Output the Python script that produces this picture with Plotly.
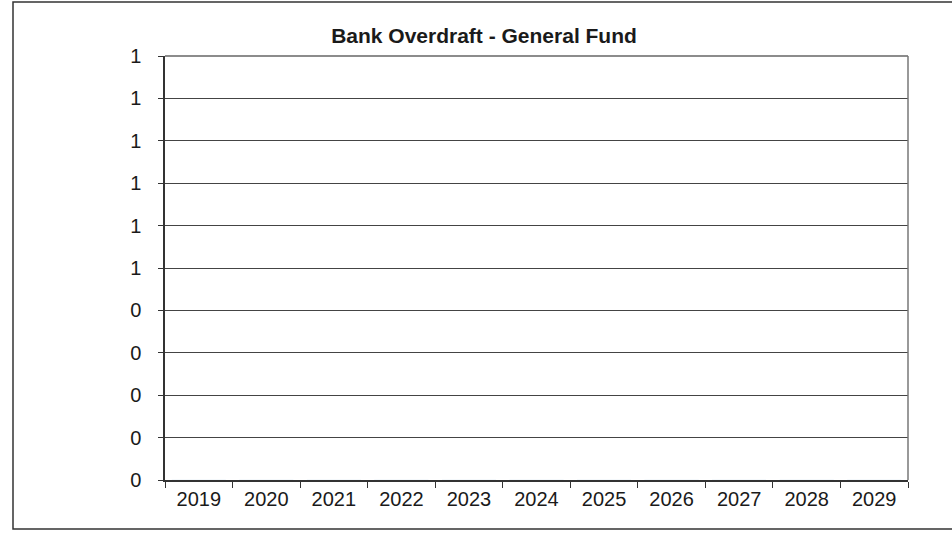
import plotly.graph_objects as go

# Fiscal years and overdraft balances (none drawn in any year)
years = ["2019", "2020", "2021", "2022", "2023", "2024", "2025", "2026", "2027", "2028", "2029"]
overdraft = [0, 0, 0, 0, 0, 0, 0, 0, 0, 0, 0]

# Value axis steps, labelled with whole numbers only
y_ticks = [0.0, 0.1, 0.2, 0.3, 0.4, 0.5, 0.6, 0.7, 0.8, 0.9, 1.0]
y_labels = ["0", "0", "0", "0", "0", "1", "1", "1", "1", "1", "1"]

W, H = 952, 533
L, R, T, B = 165, 44, 56, 53
pw, ph = W - L - R, H - T - B

fig = go.Figure()
fig.add_trace(go.Bar(x=years, y=overdraft, marker_color="#333333", showlegend=False))

font = dict(family="Liberation Sans, Arial, sans-serif", color="#1a1a1a")

fig.update_layout(
    width=W, height=H,
    margin=dict(l=L, r=R, t=T, b=B),
    paper_bgcolor="white", plot_bgcolor="white",
    font=dict(**font, size=20),
    title=dict(text="<b>Bank Overdraft - General Fund</b>", x=484 / W, xanchor="center",
               y=1 - 36 / H, yanchor="middle", font=dict(**font, size=21)),
    xaxis=dict(
        type="category", tickson="boundaries", ticks="outside", ticklen=6,
        tickcolor="#333333", showline=True, linecolor="#333333", linewidth=1.5,
        showgrid=False, tickfont=dict(**font, size=20), ticklabelstandoff=0,
    ),
    yaxis=dict(
        range=[0, 1], tickvals=y_ticks, ticktext=y_labels, ticks="outside", ticklen=5,
        tickcolor="#333333", showline=True, linecolor="#333333", linewidth=1.5,
        showgrid=True, gridcolor="#444444", gridwidth=1, zeroline=False,
        tickfont=dict(**font, size=20), ticklabelstandoff=13,
    ),
    shapes=[
        # top edge of the plot area
        dict(type="line", xref="paper", yref="paper", x0=0, x1=1, y0=1, y1=1,
             line=dict(color="#666666", width=1.5)),
        # right edge of the plot area
        dict(type="line", xref="paper", yref="paper", x0=1, x1=1, y0=0, y1=1,
             line=dict(color="#777777", width=1.5)),
        # outer chart frame
        dict(type="rect", xref="paper", yref="paper",
             x0=(13 - L) / pw, x1=(960 - L) / pw,
             y0=(H - B - 529) / ph, y1=(H - B - 2) / ph,
             line=dict(color="#333333", width=1.5)),
    ],
)

fig.write_html("out.html")
